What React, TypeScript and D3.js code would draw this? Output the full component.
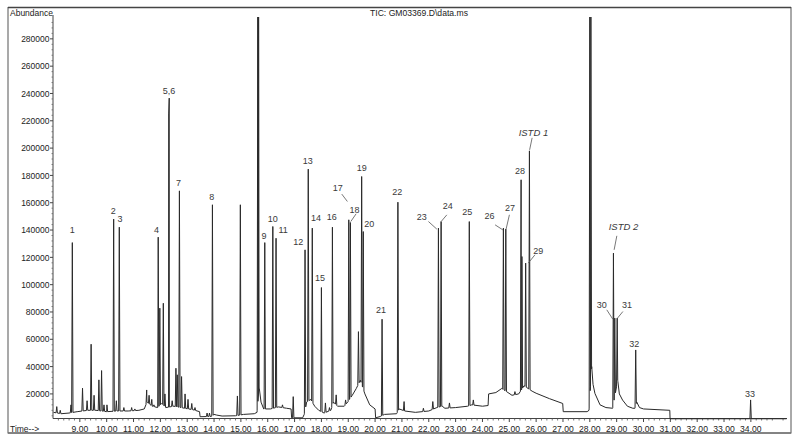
import React from 'react';
import * as d3 from 'd3';

// ---------- data ----------
const peakTimes = [
  8.14, 8.27, 8.67, 8.72, 9.10, 9.27, 9.42, 9.53, 9.71, 9.81, 9.90, 10.01,
  10.26, 10.36, 10.47, 10.64, 10.93, 11.05, 11.49, 11.58, 11.68, 11.76,
  11.92, 11.98, 12.11, 12.17, 12.31, 12.33, 12.44, 12.58, 12.63, 12.71,
  12.79, 12.92, 13.03, 13.17, 13.29, 13.74, 13.83, 13.94, 14.87, 14.98,
  15.63, 15.66, 15.89, 16.19, 16.31, 16.55, 16.95, 17.39, 17.51, 17.66,
  18.00, 18.15, 18.30, 18.41, 18.55, 18.90, 19.02, 19.08, 19.38, 19.50,
  19.56, 20.26, 20.85, 21.08, 21.80, 22.15, 22.36, 22.46, 22.77, 23.51,
  23.66, 24.78, 24.87, 25.21, 25.44, 25.47, 25.61, 25.75, 28.00, 28.04,
  28.88, 28.93, 29.02, 29.71, 33.99,
];
const peakHeights = [
  10700, 8000, 12000, 130800, 24200, 15000, 56400, 19000, 30300, 37100, 12000, 12000,
  148000, 15000, 142100, 10000, 10000, 9000, 22900, 19000, 16000, 12000,
  134800, 82800, 86400, 20000, 225000, 236600, 15000, 38800, 34000, 168700,
  32700, 20000, 16000, 13000, 10000, 6000, 6000, 158500, 18500, 158500,
  296000, 296000, 130800, 142600, 134000, 12000, 18000, 125500, 184600, 141400,
  97900, 13400, 10000, 142100, 19300, 15600, 147500, 145500, 65600, 179200,
  138900, 74700, 160400, 14400, 9500, 14400, 141400, 146200, 13400, 146200,
  15600, 141400, 140700, 21700, 176800, 120600, 115800, 198000, 296000, 296000,
  123100, 75500, 75500, 52200, 15600,
];

const baselineTimes = [
  8.02, 8.3, 8.6, 8.9, 9.3, 9.6, 10.0, 10.4, 10.8, 11.2, 11.4, 11.5, 11.7, 11.9,
  12.05, 12.2, 12.5, 12.9, 13.2, 13.46, 13.48, 13.9, 14.0, 14.1, 14.3, 14.8,
  15.1, 15.5, 15.6, 15.68, 15.75, 15.85, 16.1, 16.4, 16.7, 16.87, 16.89, 17.3,
  17.36, 17.45, 17.6, 17.75, 17.9, 18.1, 18.35, 18.45, 18.6, 18.85, 18.98,
  19.15, 19.3, 19.45, 19.62, 19.8, 20.0, 20.02, 20.2, 20.35, 20.8, 20.9, 21.1,
  21.5, 22.0, 22.3, 22.5, 22.6, 23.0, 23.45, 23.6, 24.0, 24.21, 24.23, 24.5,
  24.72, 24.95, 25.1, 25.35, 25.55, 25.85, 26.0, 26.5, 26.99, 27.01, 27.9,
  27.97, 28.07, 28.12, 28.19, 28.38, 28.6, 28.85, 29.04, 29.1, 29.22, 29.4,
  29.6, 29.68, 29.75, 29.85, 30.0, 30.98, 30.99, 35.33,
];
const baselineLevels = [
  6500, 5500, 6000, 7000, 8000, 8000, 7000, 7500, 7500, 8000, 9000, 14000, 11000, 10000,
  13000, 10000, 11000, 9500, 8500, 7000, 3300, 3500, 5000, 4500, 3800, 4000,
  5000, 5500, 6500, 25000, 14000, 9000, 9000, 10500, 9500, 9000, 2500, 2500,
  5000, 14000, 16000, 11000, 8000, 6000, 8000, 14000, 11000, 11000, 14000,
  19000, 24000, 30000, 20000, 12000, 9000, 2500, 3500, 5000, 5500, 9000, 7500,
  6500, 7500, 10000, 11000, 9500, 10000, 11000, 12000, 11000, 11500, 20000, 21000,
  24000, 21000, 19000, 20000, 26000, 22000, 20500, 16500, 13000, 7000, 7000,
  8000, 40000, 27000, 20400, 12000, 10000, 9500, 30000, 20000, 15500, 11000,
  9500, 9500, 14000, 10000, 9000, 8000, 1800, 1800,
];

const yTickValues = [20000, 40000, 60000, 80000, 100000, 120000, 140000, 160000,
  180000, 200000, 220000, 240000, 260000, 280000];
const xTickValues = [9, 10, 11, 12, 13, 14, 15, 16, 17, 18, 19, 20, 21, 22, 23, 24,
  25, 26, 27, 28, 29, 30, 31, 32, 33, 34];

const labelTexts = ['1', '2', '3', '4', '5,6', '7', '8', '9', '10', '11', '12', '13',
  '14', '15', '16', '17', '18', '19', '20', '21', '22', '23', '24', '25', '26', '27',
  '28', '29', 'ISTD 1', 'ISTD 2', '30', '31', '32', '33'];
const labelPeakTimes = [8.72, 10.26, 10.47, 11.92, 12.33, 12.71, 13.94, 15.89, 16.19,
  16.31, 17.39, 17.51, 17.66, 18.00, 18.41, 19.02, 19.08, 19.50, 19.56, 20.26, 20.85,
  22.36, 22.46, 23.51, 24.78, 24.87, 25.44, 25.61, 25.75, 28.88, 28.93, 29.02, 29.71, 33.99];

const title = 'TIC: GM03369.D\\data.ms';

// ---------- layout (pixel offsets of each label from its peak apex) ----------
const LABEL_LAYOUT: { d: [number, number]; lead?: [number, number, number, number] }[] = [
  { d: [0, -13.4] }, { d: [-0.4, -8.6] }, { d: [0.7, -8.6] }, { d: [-1.6, -7.3] },
  { d: [-0.3, -7.6] }, { d: [-1, -8.3] }, { d: [-0.6, -8.3] }, { d: [-0.7, -7] },
  { d: [0, -8] }, { d: [7, -9] }, { d: [-6.7, -7.7] }, { d: [-0.6, -8.6] },
  { d: [3.7, -10.6] }, { d: [-1.3, -9.4] }, { d: [-0.6, -10.6] },
  { d: [-11, -31.7], lead: [-7, -25.7, -1.4, -18.3] },
  { d: [4, -12.7], lead: [5.7, -8.7, 0.4, -1] },
  { d: [0, -8.4] }, { d: [6, -7.7] }, { d: [-1, -9.3] }, { d: [-0.7, -10.6] },
  { d: [-16.6, -11.6], lead: [-10, -6.6, -1.6, 1] },
  { d: [6.7, -15.7], lead: [5.7, -6.7, 0, 0] },
  { d: [-2, -10] },
  { d: [-14, -12.6], lead: [-8.3, -3.3, -0.6, 1.7] },
  { d: [4.3, -21], lead: [3.6, -14.3, 0.3, 0] },
  { d: [-1, -9.3] },
  { d: [12.6, -12.3], lead: [9.3, -8.3, 2.6, 0] },
  { d: [4, -18.3], lead: [2.7, -13, 0.2, -1] },
  { d: [10, -26], lead: [3.4, -17.3, 0.7, -3.3] },
  { d: [-13, -13.3], lead: [-8, -8.3, -2, 1] },
  { d: [9.7, -13.3], lead: [5.7, -6.6, 0.3, 0] },
  { d: [-1.4, -6.7] }, { d: [-0.7, -6.7] },
];

const FONT = '"Liberation Sans", Arial, Helvetica, sans-serif';
const HALF_WIDTH = 0.025; // peak half-width at base, minutes

export default function App() {
  const W = 800, H = 442;
  const x = d3.scaleLinear().domain([8, 35.35]).range([53, 787.1]);
  const y = d3.scaleLinear().domain([2000, 296000]).range([418.5, 17]);
  const base = d3.scaleLinear<number>().domain(baselineTimes).range(baselineLevels).clamp(true);

  const pts: [number, number][] = baselineTimes.map((t, i) => [t, baselineLevels[i]]);
  peakTimes.forEach((t, i) => {
    pts.push([t - HALF_WIDTH, base(t - HALF_WIDTH)]);
    pts.push([t, peakHeights[i]]);
    pts.push([t + HALF_WIDTH, base(t + HALF_WIDTH)]);
  });
  pts.sort((a, b) => a[0] - b[0]);
  const line = d3.line<[number, number]>().x(d => x(d[0])).y(d => y(d[1]));
  const tracePath = line(pts) || '';

  const axisY = y(2000);
  const minorX = d3.range(8.2, 35.3, 0.2).filter(t => Math.abs(t - Math.round(t)) > 0.01);
  const minorY = d3.range(4000, 296000, 4000).filter(v => v % 20000 !== 0);
  const fmt = d3.format('.2f');

  const apexOf = (t: number) => {
    const i = peakTimes.findIndex(p => Math.abs(p - t) < 1e-6);
    return [x(t), y(peakHeights[i])];
  };

  return (
    <svg width={W} height={H} viewBox={`0 0 ${W} ${H}`}
      style={{ position: 'absolute', left: 0, top: 0, background: '#fff', display: 'block' }}
      fontFamily={FONT}>
      <rect x={0} y={0} width={W} height={H} fill="#fff" />
      {/* outer frame */}
      <rect x={8} y={7.5} width={783} height={425.5} fill="none" stroke="#555" strokeWidth={1} />
      <line x1={8} x2={791} y1={7.5} y2={7.5} stroke="#444" strokeWidth={1.4} />
      <line x1={8} x2={791} y1={433} y2={433} stroke="#777" strokeWidth={1.6} />

      <text x={10} y={16} fontSize={8.5} fill="#222">Abundance</text>
      <text x={419} y={16} fontSize={8.6} fill="#222" textAnchor="middle">{title}</text>

      {/* y axis */}
      <line x1={53} x2={53} y1={15} y2={axisY} stroke="#444" strokeWidth={1} />
      {minorY.map(v => (
        <line key={'my' + v} x1={51.5} x2={53} y1={y(v)} y2={y(v)} stroke="#666" strokeWidth={0.8} />
      ))}
      {yTickValues.map(v => (
        <g key={'y' + v}>
          <line x1={50} x2={53} y1={y(v)} y2={y(v)} stroke="#444" strokeWidth={1} />
          <text x={49.5} y={y(v) + 3.2} fontSize={8.5} fill="#222" textAnchor="end">{v}</text>
        </g>
      ))}

      {/* x axis */}
      <line x1={53} x2={787} y1={axisY} y2={axisY} stroke="#444" strokeWidth={1} />
      {minorX.map(t => (
        <line key={'mx' + t.toFixed(1)} x1={x(t)} x2={x(t)} y1={axisY} y2={axisY + 2} stroke="#555" strokeWidth={0.8} />
      ))}
      {xTickValues.map(t => (
        <g key={'x' + t}>
          <line x1={x(t)} x2={x(t)} y1={axisY} y2={axisY + 3.5} stroke="#444" strokeWidth={1} />
          <text x={x(t)} y={431.5} fontSize={8.6} fill="#222" textAnchor="middle">{fmt(t)}</text>
        </g>
      ))}
      <text x={10} y={431.5} fontSize={8.5} fill="#222">Time--&gt;</text>

      {/* trace */}
      <path d={tracePath} fill="none" stroke="#2a2a2a" strokeWidth={1} strokeLinejoin="miter" />

      {/* peak labels */}
      {labelTexts.map((txt, i) => {
        const [ax, ay] = apexOf(labelPeakTimes[i]);
        const L = LABEL_LAYOUT[i];
        const italic = txt.startsWith('ISTD');
        return (
          <g key={'lab' + i}>
            {L.lead && (
              <line x1={ax + L.lead[0]} y1={ay + L.lead[1]} x2={ax + L.lead[2]} y2={ay + L.lead[3]}
                stroke="#555" strokeWidth={0.8} />
            )}
            <text x={ax + L.d[0]} y={ay + L.d[1] + 3.3} fontSize={italic ? 9.5 : 9} fill="#3a3a3a"
              textAnchor="middle" fontStyle={italic ? 'italic' : 'normal'}>{txt}</text>
          </g>
        );
      })}
    </svg>
  );
}
